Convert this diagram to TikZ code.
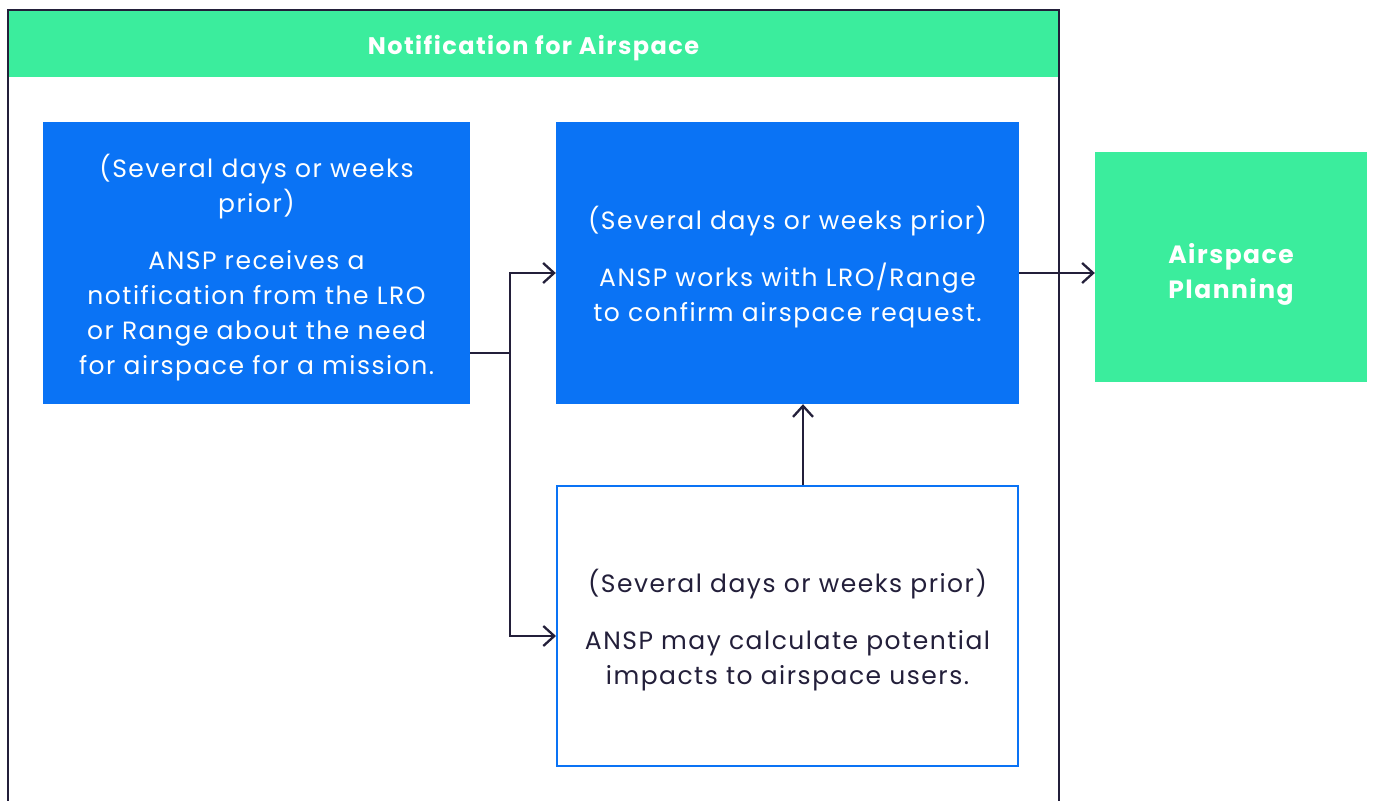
\documentclass[tikz,border=0pt]{standalone}
\usepackage{fontspec}
\setmainfont{Poppins}[LetterSpace=6]
\usetikzlibrary{arrows.meta}
\definecolor{bblue}{HTML}{0A73F5}
\definecolor{bgreen}{HTML}{3BED9D}
\definecolor{navy}{HTML}{231F3A}
\begin{document}
\begin{tikzpicture}[x=1pt,y=-1pt,
  txt/.style={align=center,font=\fontsize{25}{35}\selectfont,inner sep=0pt},
  bluebox/.style={fill=bblue,inner sep=0pt},
  whitebox/.style={fill=white,draw=bblue,line width=2pt,inner sep=0pt},
  greenbox/.style={fill=bgreen,inner sep=0pt},
  conn/.style={draw=navy,line width=2.3pt},
  arr/.style={conn,-{Straight Barb[length=11pt,width=20pt,line width=2.3pt]}}]
\useasboundingbox (0,0) rectangle (1375,800);
\fill[white] (0,0) rectangle (1375,800);
% header
\node[greenbox,minimum width=1051pt,minimum height=67pt] (hdr) at (533.5,43.5) {};
\node[txt,text=white,font=\fontsize{24}{30}\selectfont\bfseries] (hdrt) at (533.5,48) {Notification for Airspace};
% frame
\draw[navy,line width=2.6pt] (8,812) -- (8,10) -- (1059,10) -- (1059,812);
% boxes
\node[bluebox,minimum width=427pt,minimum height=282pt] (a) at (256.5,263) {};
\node[txt,text=white] (at) at ([yshift=-5pt]a.center)
  {(Several days or weeks\\prior)\\[22pt]ANSP receives a\\notification from the LRO\\or Range about the need\\for airspace for a mission.};
\node[bluebox,minimum width=463pt,minimum height=282pt] (b) at (787.5,263) {};
\node[txt,text=white] (bt) at ([yshift=-4pt]b.center)
  {(Several days or weeks prior)\\[22pt]ANSP works with LRO/Range\\to confirm airspace request.};
\node[whitebox,minimum width=461pt,minimum height=280pt] (c) at (787.5,626) {};
\node[txt,text=navy] (ct) at ([yshift=-4pt]c.center)
  {(Several days or weeks prior)\\[22pt]ANSP may calculate potential\\impacts to airspace users.};
\node[greenbox,minimum width=272pt,minimum height=230pt] (d) at (1231,267) {};
\node[txt,text=white,font=\fontsize{25}{35}\selectfont\bfseries] (dt) at ([yshift=-7pt]d.center) {Airspace\\Planning};
% connectors
\coordinate (aout) at ([yshift=-90pt]a.east);
\coordinate (fork) at (510,353);
\draw[conn] (aout) -- (fork);
\draw[arr] (fork) |- ([yshift=-10pt]b.west);
\draw[arr] (fork) |- ([yshift=-10pt]c.west);
\draw[arr] ([xshift=15.5pt]c.north) -- ([xshift=15.5pt]b.south);
\draw[arr] ([yshift=-10pt]b.east) -- ([yshift=-10pt]b.east -| d.west);
\end{tikzpicture}
\end{document}
